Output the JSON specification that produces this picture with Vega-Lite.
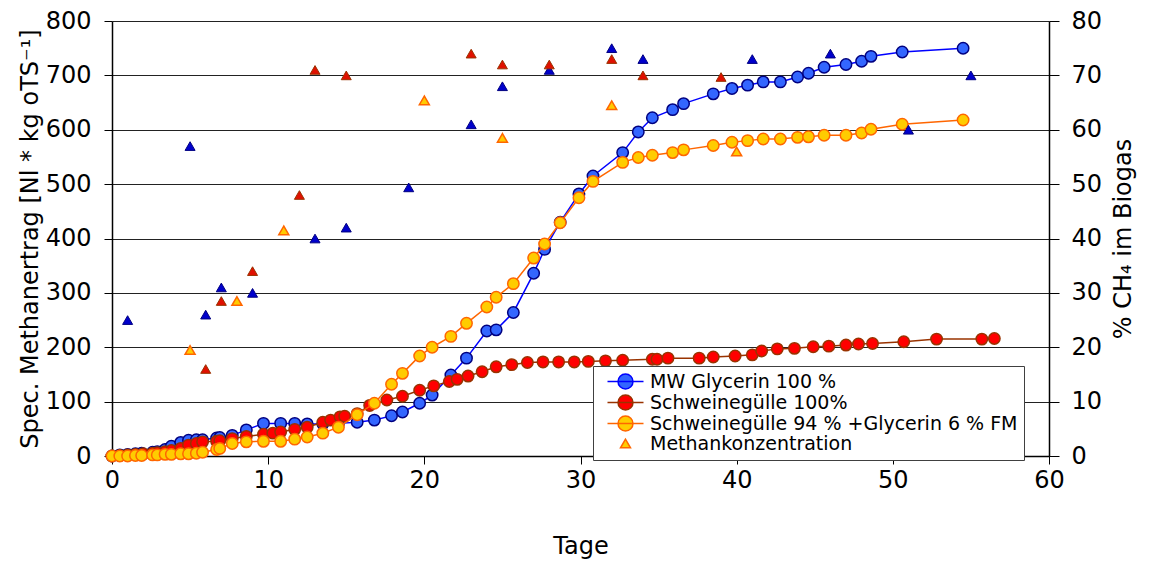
{
  "$schema": "https://vega.github.io/schema/vega-lite/v6.json",
  "width": 937,
  "height": 435,
  "autosize": {"type": "none"},
  "padding": {"left": 112, "top": 21, "right": 102, "bottom": 107},
  "background": "white",
  "config": {
    "font": "DejaVu Sans",
    "view": {"stroke": null},
    "axis": {
      "labelFont": "DejaVu Sans",
      "titleFont": "DejaVu Sans",
      "labelFontSize": 24,
      "titleFontSize": 24,
      "titleFontWeight": "normal",
      "labelColor": "black",
      "titleColor": "black",
      "domainColor": "black",
      "domainWidth": 1.5,
      "tickColor": "black",
      "tickSize": 8,
      "gridColor": "#222222",
      "gridWidth": 1,
      "gridOpacity": 1,
      "labelFlush": false,
      "labelOverlap": false
    }
  },
  "datasets": {
    "glyc": [
      {"day": 0, "val": 0}, {"day": 0.5, "val": 2}, {"day": 1.0, "val": 3}, {"day": 1.5, "val": 4}, {"day": 1.9, "val": 5},
      {"day": 2.6, "val": 7}, {"day": 2.9, "val": 8}, {"day": 3.4, "val": 12}, {"day": 3.8, "val": 18}, {"day": 4.4, "val": 25},
      {"day": 4.9, "val": 29}, {"day": 5.4, "val": 30}, {"day": 5.8, "val": 30}, {"day": 6.7, "val": 33}, {"day": 6.9, "val": 34},
      {"day": 7.7, "val": 38}, {"day": 8.6, "val": 48}, {"day": 9.7, "val": 60}, {"day": 10.8, "val": 60}, {"day": 11.7, "val": 60},
      {"day": 12.5, "val": 59}, {"day": 13.5, "val": 59}, {"day": 14.5, "val": 60}, {"day": 15.7, "val": 62}, {"day": 16.8, "val": 66},
      {"day": 17.9, "val": 74}, {"day": 18.6, "val": 81}, {"day": 19.7, "val": 97}, {"day": 20.5, "val": 112}, {"day": 21.7, "val": 149},
      {"day": 22.7, "val": 180}, {"day": 24.0, "val": 230}, {"day": 24.6, "val": 232}, {"day": 25.7, "val": 264}, {"day": 27.0, "val": 336},
      {"day": 27.7, "val": 380}, {"day": 28.7, "val": 430}, {"day": 29.9, "val": 482}, {"day": 30.8, "val": 515}, {"day": 32.7, "val": 558},
      {"day": 33.7, "val": 596}, {"day": 34.6, "val": 622}, {"day": 35.9, "val": 637}, {"day": 36.6, "val": 648}, {"day": 38.5, "val": 666},
      {"day": 39.7, "val": 676}, {"day": 40.7, "val": 682}, {"day": 41.7, "val": 688}, {"day": 42.8, "val": 688}, {"day": 43.9, "val": 697},
      {"day": 44.6, "val": 704}, {"day": 45.6, "val": 715}, {"day": 47.0, "val": 720}, {"day": 48.0, "val": 726}, {"day": 48.6, "val": 735},
      {"day": 50.6, "val": 743}, {"day": 54.5, "val": 750}
    ],
    "sg": [
      {"day": 0, "val": 0}, {"day": 0.5, "val": 1}, {"day": 1.0, "val": 2}, {"day": 1.5, "val": 3}, {"day": 2.0, "val": 4},
      {"day": 2.6, "val": 5}, {"day": 2.9, "val": 6}, {"day": 3.4, "val": 8}, {"day": 3.8, "val": 10}, {"day": 4.4, "val": 14},
      {"day": 4.9, "val": 20}, {"day": 5.4, "val": 23}, {"day": 5.8, "val": 26}, {"day": 6.7, "val": 27}, {"day": 6.9, "val": 28},
      {"day": 7.7, "val": 32}, {"day": 8.6, "val": 36}, {"day": 9.7, "val": 40}, {"day": 10.3, "val": 42}, {"day": 10.8, "val": 44},
      {"day": 11.7, "val": 49}, {"day": 12.5, "val": 53}, {"day": 13.5, "val": 62}, {"day": 14.0, "val": 66}, {"day": 14.6, "val": 72},
      {"day": 14.9, "val": 73}, {"day": 15.7, "val": 78}, {"day": 16.5, "val": 93}, {"day": 17.6, "val": 103}, {"day": 18.6, "val": 110},
      {"day": 19.7, "val": 121}, {"day": 20.6, "val": 129}, {"day": 21.6, "val": 137}, {"day": 22.1, "val": 141}, {"day": 22.8, "val": 147},
      {"day": 23.7, "val": 155}, {"day": 24.6, "val": 164}, {"day": 25.6, "val": 168}, {"day": 26.6, "val": 172}, {"day": 27.6, "val": 173},
      {"day": 28.6, "val": 173}, {"day": 29.6, "val": 173}, {"day": 30.5, "val": 174}, {"day": 31.6, "val": 175}, {"day": 32.7, "val": 176},
      {"day": 34.6, "val": 178}, {"day": 34.9, "val": 178}, {"day": 35.6, "val": 180}, {"day": 37.6, "val": 180}, {"day": 38.5, "val": 182},
      {"day": 39.9, "val": 184}, {"day": 41.0, "val": 186}, {"day": 41.6, "val": 193}, {"day": 42.6, "val": 197}, {"day": 43.7, "val": 198},
      {"day": 44.9, "val": 201}, {"day": 45.9, "val": 202}, {"day": 47.0, "val": 204}, {"day": 47.8, "val": 206}, {"day": 48.7, "val": 207},
      {"day": 50.7, "val": 210}, {"day": 52.8, "val": 215}, {"day": 55.7, "val": 215}, {"day": 56.5, "val": 216}
    ],
    "mix": [
      {"day": 0, "val": 0}, {"day": 0.5, "val": 0}, {"day": 1.0, "val": 0}, {"day": 1.5, "val": 1}, {"day": 1.9, "val": 1},
      {"day": 2.6, "val": 2}, {"day": 2.9, "val": 2}, {"day": 3.4, "val": 3}, {"day": 3.8, "val": 3}, {"day": 4.4, "val": 4},
      {"day": 4.9, "val": 4}, {"day": 5.4, "val": 5}, {"day": 5.8, "val": 7}, {"day": 6.7, "val": 12}, {"day": 6.9, "val": 14},
      {"day": 7.7, "val": 23}, {"day": 8.6, "val": 26}, {"day": 9.7, "val": 27}, {"day": 10.8, "val": 27}, {"day": 11.7, "val": 31},
      {"day": 12.5, "val": 35}, {"day": 13.5, "val": 42}, {"day": 14.5, "val": 53}, {"day": 15.7, "val": 76}, {"day": 16.8, "val": 97},
      {"day": 17.9, "val": 132}, {"day": 18.6, "val": 152}, {"day": 19.7, "val": 184}, {"day": 20.5, "val": 200}, {"day": 21.7, "val": 220},
      {"day": 22.7, "val": 244}, {"day": 24.0, "val": 274}, {"day": 24.6, "val": 292}, {"day": 25.7, "val": 317}, {"day": 27.0, "val": 364},
      {"day": 27.7, "val": 390}, {"day": 28.7, "val": 429}, {"day": 29.9, "val": 475}, {"day": 30.8, "val": 505}, {"day": 32.7, "val": 540},
      {"day": 33.7, "val": 549}, {"day": 34.6, "val": 553}, {"day": 35.9, "val": 558}, {"day": 36.6, "val": 563}, {"day": 38.5, "val": 571},
      {"day": 39.7, "val": 577}, {"day": 40.7, "val": 580}, {"day": 41.7, "val": 583}, {"day": 42.8, "val": 583}, {"day": 43.9, "val": 586},
      {"day": 44.6, "val": 587}, {"day": 45.6, "val": 590}, {"day": 47.0, "val": 590}, {"day": 48.0, "val": 594}, {"day": 48.6, "val": 601},
      {"day": 50.6, "val": 610}, {"day": 54.5, "val": 618}
    ],
    "tglyc": [
      {"day": 1, "ch4": 25}, {"day": 5, "ch4": 57}, {"day": 6, "ch4": 26}, {"day": 7, "ch4": 31}, {"day": 9, "ch4": 30},
      {"day": 13, "ch4": 40}, {"day": 15, "ch4": 42}, {"day": 19, "ch4": 49.4}, {"day": 23, "ch4": 61}, {"day": 25, "ch4": 68},
      {"day": 28, "ch4": 71}, {"day": 32, "ch4": 75}, {"day": 34, "ch4": 73}, {"day": 41, "ch4": 73}, {"day": 46, "ch4": 74},
      {"day": 51, "ch4": 60}, {"day": 55, "ch4": 70}
    ],
    "tsg": [
      {"day": 6, "ch4": 16}, {"day": 7, "ch4": 28.5}, {"day": 9, "ch4": 34}, {"day": 12, "ch4": 48}, {"day": 13, "ch4": 71},
      {"day": 15, "ch4": 70}, {"day": 23, "ch4": 74}, {"day": 25, "ch4": 72}, {"day": 28, "ch4": 72}, {"day": 32, "ch4": 73},
      {"day": 34, "ch4": 70}, {"day": 39, "ch4": 69.7}
    ],
    "tmix": [
      {"day": 5, "ch4": 19.5}, {"day": 8, "ch4": 28.5}, {"day": 11, "ch4": 41.5}, {"day": 20, "ch4": 65.4}, {"day": 25, "ch4": 58.5},
      {"day": 32, "ch4": 64.5}, {"day": 40, "ch4": 56}
    ],
    "leg": [
      {"s": "MW Glycerin 100 %"}, {"s": "Schweinegülle 100%"}, {"s": "Schweinegülle 94 % +Glycerin 6 % FM"}, {"s": "Methankonzentration"}
    ]
  },
  "layer": [
    {
      "encoding": {
        "x": {"field": "day", "type": "quantitative", "scale": {"domain": [0, 60], "nice": false},
              "axis": {"values": [0, 10, 20, 30, 40, 50, 60], "title": "Tage", "grid": false, "labelPadding": 4, "titlePadding": 42}},
        "y": {"field": "val", "type": "quantitative", "scale": {"domain": [0, 800], "nice": false},
              "axis": {"orient": "left", "values": [0, 100, 200, 300, 400, 500, 600, 700, 800], "grid": true,
                       "title": "Spec. Methanertrag [Nl * kg oTS⁻¹]", "labelPadding": 13, "titlePadding": 3}}
      },
      "layer": [
        {"data": {"name": "glyc"}, "mark": {"type": "line", "color": "#0000FF", "strokeWidth": 1.5}},
        {"data": {"name": "glyc"}, "mark": {"type": "point", "shape": "circle", "filled": true, "size": 130, "fill": "#3366FF", "stroke": "#000080", "strokeWidth": 1.5, "opacity": 1}},
        {"data": {"name": "sg"}, "mark": {"type": "line", "color": "#993300", "strokeWidth": 1.5}},
        {"data": {"name": "sg"}, "mark": {"type": "point", "shape": "circle", "filled": true, "size": 130, "fill": "#FF0000", "stroke": "#993300", "strokeWidth": 1.5, "opacity": 1}},
        {"data": {"name": "mix"}, "mark": {"type": "line", "color": "#FF6600", "strokeWidth": 1.5}},
        {"data": {"name": "mix"}, "mark": {"type": "point", "shape": "circle", "filled": true, "size": 130, "fill": "#FFCC00", "stroke": "#FF6600", "strokeWidth": 1.5, "opacity": 1}},
        {
          "data": {"name": "leg"},
          "mark": {"type": "point", "filled": true, "opacity": 1, "strokeWidth": 1.5},
          "encoding": {
            "fill": {"field": "s", "type": "nominal",
                     "scale": {"domain": ["MW Glycerin 100 %", "Schweinegülle 100%", "Schweinegülle 94 % +Glycerin 6 % FM", "Methankonzentration"],
                               "range": ["#3366FF", "#FF0000", "#FFCC00", "#FFCC00"]},
                     "legend": {"orient": "none", "legendX": 481, "legendY": 345, "title": null, "padding": 6, "fillColor": "white", "strokeColor": "#404040",
                                "labelFontSize": 19, "labelFont": "DejaVu Sans", "labelColor": "black", "labelLimit": 600, "symbolSize": 100,
                                "symbolOffset": 17, "labelOffset": 15, "rowPadding": 0, "symbolStrokeWidth": 1.5, "symbolOpacity": 1}},
            "stroke": {"field": "s", "type": "nominal",
                       "scale": {"domain": ["MW Glycerin 100 %", "Schweinegülle 100%", "Schweinegülle 94 % +Glycerin 6 % FM", "Methankonzentration"],
                                 "range": ["#0000FF", "#993300", "#FF6600", "#FF6600"]},
                       "legend": {"orient": "none", "legendX": 481, "legendY": 345, "title": null, "padding": 6, "fillColor": "white", "strokeColor": "#404040",
                                  "labelFontSize": 19, "labelFont": "DejaVu Sans", "labelColor": "black", "labelLimit": 600, "symbolSize": 100,
                                  "symbolOffset": 17, "labelOffset": 15, "rowPadding": 0, "symbolStrokeWidth": 1.5, "symbolOpacity": 1}},
            "shape": {"field": "s", "type": "nominal",
                      "scale": {"domain": ["MW Glycerin 100 %", "Schweinegülle 100%", "Schweinegülle 94 % +Glycerin 6 % FM", "Methankonzentration"],
                                "range": ["M-3.6,0L3.6,0M-1.5,0A1.5,1.5,0,1,0,1.5,0A1.5,1.5,0,1,0,-1.5,0", "M-3.6,0L3.6,0M-1.5,0A1.5,1.5,0,1,0,1.5,0A1.5,1.5,0,1,0,-1.5,0", "M-3.6,0L3.6,0M-1.5,0A1.5,1.5,0,1,0,1.5,0A1.5,1.5,0,1,0,-1.5,0", "triangle-up"]},
                      "legend": {"orient": "none", "legendX": 481, "legendY": 345, "title": null, "padding": 6, "fillColor": "white", "strokeColor": "#404040",
                                 "labelFontSize": 19, "labelFont": "DejaVu Sans", "labelColor": "black", "labelLimit": 600, "symbolSize": 100,
                                 "symbolOffset": 17, "labelOffset": 15, "rowPadding": 0, "symbolStrokeWidth": 1.5, "symbolOpacity": 1}}
          }
        }
      ]
    },
    {
      "encoding": {
        "x": {"field": "day", "type": "quantitative", "scale": {"domain": [0, 60], "nice": false},
              "axis": {"values": [0, 10, 20, 30, 40, 50, 60], "title": "Tage", "grid": false, "labelPadding": 4, "titlePadding": 42}},
        "y": {"field": "ch4", "type": "quantitative", "scale": {"domain": [0, 80], "nice": false},
              "axis": {"orient": "right", "values": [0, 10, 20, 30, 40, 50, 60, 70, 80], "grid": false, "tickSize": 10,
                       "title": "% CH₄ im Biogas", "titleAngle": -90, "titleBaseline": "top", "labelPadding": 12, "titlePadding": 10}}
      },
      "layer": [
        {"data": {"name": "tglyc"}, "mark": {"type": "point", "shape": "triangle-up", "filled": true, "size": 100, "fill": "#0000CC", "stroke": "#000080", "strokeWidth": 1, "opacity": 1}},
        {"data": {"name": "tsg"}, "mark": {"type": "point", "shape": "triangle-up", "filled": true, "size": 100, "fill": "#E01000", "stroke": "#993300", "strokeWidth": 1, "opacity": 1}},
        {"data": {"name": "tmix"}, "mark": {"type": "point", "shape": "triangle-up", "filled": true, "size": 100, "fill": "#FFCC00", "stroke": "#FF6600", "strokeWidth": 1.5, "opacity": 1}}
      ]
    }
  ],
  "resolve": {"scale": {"y": "independent"}}
}
